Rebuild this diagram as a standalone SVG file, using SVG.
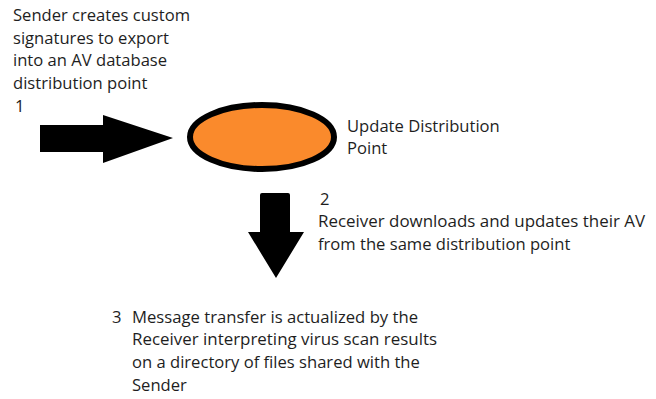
<svg xmlns="http://www.w3.org/2000/svg" width="656" height="399" viewBox="0 0 656 399">
<style>
text{font-family:"Open Sans","Liberation Sans",Arial,sans-serif;font-size:16.6px;fill:#1e1e1e}
.arrow{fill:#000}
</style>
<rect width="656" height="399" fill="#fff"/>
<g id="sender-note">
<text x="13" y="21" textLength="177" lengthAdjust="spacingAndGlyphs">Sender creates custom</text>
<text x="13" y="44">signatures to export</text>
<text x="13" y="66">into an AV database</text>
<text x="13" y="89">distribution point</text>
<text x="15" y="112">1</text>
</g>
<g id="connectors">
<path class="arrow" d="M40,125 L103,125 L103,115 L173,138 L103,163 L103,152 L40,152 Z"/>
<path class="arrow" d="M260,195 Q260,193 262,193 L288,193 Q290,193 290,195 L290,232 L304,232 L276,278 L248,232 L260,232 Z"/>
</g>
<g id="update-point">
<ellipse cx="262" cy="137" rx="72" ry="32" fill="#FA8A2C" stroke="#000" stroke-width="6"/>
<text x="347" y="132">Update Distribution</text>
<text x="347" y="154">Point</text>
</g>
<g id="receiver-note">
<text x="320" y="205">2</text>
<text x="318" y="227" textLength="327" lengthAdjust="spacingAndGlyphs">Receiver downloads and updates their AV</text>
<text x="318" y="250">from the same distribution point</text>
</g>
<g id="transfer-note">
<text x="112" y="323">3</text>
<text x="132" y="323" textLength="286" lengthAdjust="spacingAndGlyphs">Message transfer is actualized by the</text>
<text x="132" y="345" textLength="305" lengthAdjust="spacingAndGlyphs">Receiver interpreting virus scan results</text>
<text x="132" y="368">on a directory of files shared with the</text>
<text x="132" y="391">Sender</text>
</g>
</svg>
